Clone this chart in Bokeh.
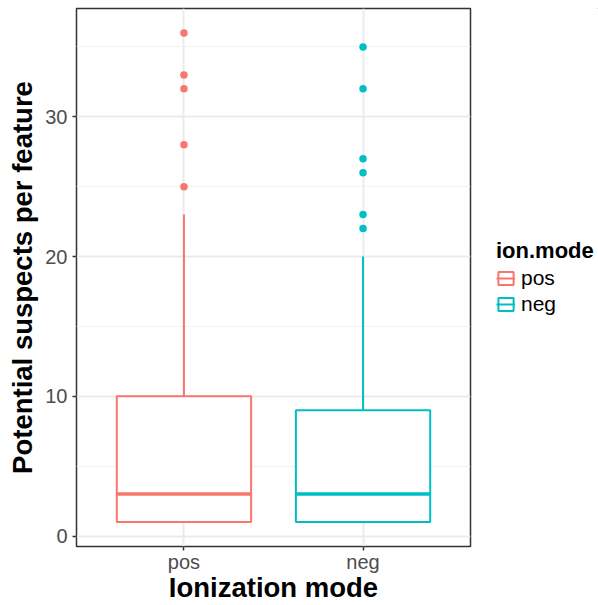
import numpy as np
from bokeh.plotting import figure
from bokeh.layouts import row
from bokeh.models import (Range1d, FixedTicker, Legend, LegendItem)
from bokeh.embed import file_html
from bokeh.resources import INLINE

# ---- data ----
modes = ["pos", "neg"]
colors = ["#F8766D", "#00BFC4"]
q1 = [1, 1]
median = [3, 3]
q3 = [10, 9]
whisker_low = [1, 1]
whisker_high = [23, 20]
outliers_pos = [25, 28, 32, 33, 36]
outliers_neg = [22, 23, 26, 27, 32, 35]
outliers = [outliers_pos, outliers_neg]
y_ticks = [0, 10, 20, 30]
y_minor = [5, 15, 25, 35]

BOX_W = 0.75
FONT = "Liberation Sans"

xpos = np.arange(1, len(modes) + 1, dtype=float)

p = figure(width=480, height=605, output_backend="svg", toolbar_location=None,
           x_range=Range1d(0.4, 2.6), y_range=Range1d(-0.75, 37.75),
           min_border_left=76, min_border_right=10, min_border_top=8, min_border_bottom=59)

p.background_fill_color = "white"
p.border_fill_color = "white"
p.outline_line_color = "#333333"
p.outline_line_width = 1.5

# grid
p.xgrid.ticker = FixedTicker(ticks=list(xpos))
p.ygrid.ticker = FixedTicker(ticks=y_ticks, minor_ticks=y_minor)
p.xgrid.grid_line_color = "#EBEBEB"
p.xgrid.grid_line_width = 2
p.ygrid.grid_line_color = "#EBEBEB"
p.ygrid.grid_line_width = 2
p.ygrid.minor_grid_line_color = "#F2F2F2"
p.ygrid.minor_grid_line_width = 1

# axes
p.xaxis.ticker = FixedTicker(ticks=list(xpos))
p.xaxis.major_label_overrides = {float(x): m for x, m in zip(xpos, modes)}
p.xaxis.major_label_overrides.update({int(x): m for x, m in zip(xpos, modes)})
p.yaxis.ticker = FixedTicker(ticks=y_ticks, minor_ticks=y_minor)
for ax in (p.xaxis[0], p.yaxis[0]):
    ax.axis_line_color = None
    ax.major_tick_line_color = "#333333"
    ax.major_tick_line_width = 1.5
    ax.major_tick_out = 4
    ax.major_tick_in = 0
    ax.minor_tick_line_color = None
    ax.major_label_text_font = FONT
    ax.major_label_text_font_size = "20px"
    ax.major_label_text_color = "#4D4D4D"
    ax.axis_label_text_font = FONT
    ax.axis_label_text_font_size = "27.5px"
    ax.axis_label_text_font_style = "bold"
    ax.axis_label_text_color = "black"
p.xaxis.axis_label = "Ionization mode"
p.yaxis.axis_label = "Potential suspects per feature"
p.xaxis.major_label_standoff = 0
p.xaxis.axis_label_standoff = -4
p.yaxis.major_label_standoff = 5
p.yaxis.axis_label_standoff = 4

for i, m in enumerate(modes):
    c = colors[i]
    x = xpos[i]
    # whiskers
    p.segment(x0=[x, x], y0=[q3[i], q1[i]], x1=[x, x], y1=[whisker_high[i], whisker_low[i]],
              line_color=c, line_width=2)
    # box
    p.vbar(x=[x], width=BOX_W, bottom=[q1[i]], top=[q3[i]],
           fill_color="white", line_color=c, line_width=2)
    # median
    p.segment(x0=[x - BOX_W / 2], y0=[median[i]], x1=[x + BOX_W / 2], y1=[median[i]],
              line_color=c, line_width=3.5)
    # outliers
    p.scatter(x=[x] * len(outliers[i]), y=outliers[i], size=7.5,
              fill_color=c, line_color=None, marker="circle")

# ---- legend panel (its glyphs lie far outside the ranges; only the legend keys show) ----
lg = figure(width=118, height=605, output_backend="svg", toolbar_location=None,
            x_range=Range1d(-100, -99), y_range=Range1d(-100, -99),
            min_border_left=0, min_border_right=0, min_border_top=0, min_border_bottom=0)
lg.outline_line_color = None
lg.axis.visible = False
lg.grid.visible = False
lg.background_fill_color = "white"
lg.border_fill_color = "white"
items = []
for i, m in enumerate(modes):
    c = colors[i]
    x = xpos[i]
    br = lg.vbar(x=[x], width=BOX_W, bottom=[q1[i]], top=[q3[i]],
                 fill_color="white", line_color=c, line_width=2)
    mr = lg.segment(x0=[x - BOX_W / 2], y0=[median[i]], x1=[x + BOX_W / 2], y1=[median[i]],
                    line_color=c, line_width=2)
    items.append(LegendItem(label=m, renderers=[br, mr]))

legend = Legend(items=items, title="ion.mode", location=(16, 230),
                title_text_font=FONT, title_text_font_size="22px", title_text_font_style="bold",
                title_text_color="black", title_standoff=2,
                label_text_font=FONT, label_text_font_size="21px", label_text_color="black",
                glyph_width=19, glyph_height=16, label_standoff=6, spacing=2,
                padding=0, margin=0, border_line_color=None, background_fill_alpha=0)
lg.add_layout(legend, "center")

layout = row(p, lg)
open("out.html", "w").write(file_html(layout, INLINE))
